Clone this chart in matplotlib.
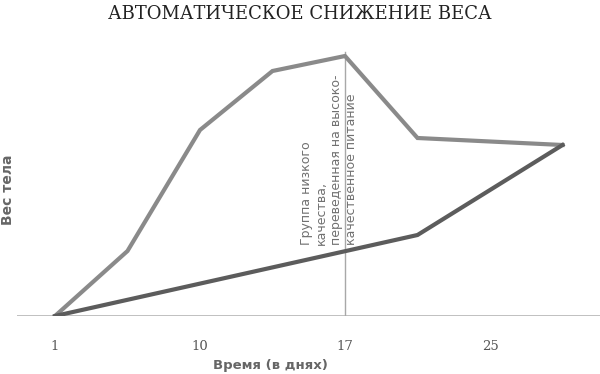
import matplotlib.pyplot as plt

# x positions are category slots (days shown in tick labels)
upper_x = [0, 1, 2, 3, 4, 5, 7]
upper_y = [0, 6.5, 18.6, 24.5, 26.0, 17.8, 17.1]  # low-quality group switched at day 17
lower_x = [0, 5, 7]
lower_y = [0, 8.1, 17.1]
tick_pos = [0, 2, 4, 6]
tick_labels = ["1", "10", "17", "25"]
switch_x = 4
switch_top = 26.4

fig = plt.figure(figsize=(6, 3.74), dpi=100)
ax = fig.add_axes([17 / 600, 58 / 374, 583 / 600, 276 / 374])

ax.plot(upper_x, upper_y, color="#8a8a8a", lw=3, solid_joinstyle="miter", zorder=3)
ax.plot(lower_x, lower_y, color="#5c5c5c", lw=3, solid_joinstyle="miter", zorder=4)

ax.plot([switch_x, switch_x], [0, switch_top], color="#a8a8a8", lw=1, zorder=2)
ax.axhline(0, color="#b5b5b5", lw=1.2, zorder=1)

ax.text(3.78, 7.1,
        "Группа низкого\nкачества,\nпереведенная на высоко-\nкачественное питание",
        rotation=90, ha="center", va="bottom", multialignment="left",
        fontsize=9, color="#707070", linespacing=1.2, family="DejaVu Sans")

ax.set_xlim(-0.524, 7.517)
ax.set_ylim(0, 27.6)
ax.set_xticks(tick_pos)
ax.set_xticklabels(tick_labels, family="DejaVu Serif", fontsize=9.5, color="#555555")
ax.tick_params(axis="x", length=0, pad=17)
ax.set_yticks([])
for s in ax.spines.values():
    s.set_visible(False)

fig.text(0.5, 0.962, "АВТОМАТИЧЕСКОЕ СНИЖЕНИЕ ВЕСА", ha="center", va="center",
         family="DejaVu Serif", fontsize=13, color="#222222")
fig.text(270 / 600, 1 - 365 / 374, "Время (в днях)", ha="center", va="center",
         fontsize=9.5, fontweight="bold", color="#666666")
fig.text(8 / 600, 1 - 190 / 374, "Вес тела", ha="center", va="center", rotation=90,
         fontsize=10, fontweight="bold", color="#666666")

fig.savefig("out.png", dpi=100)
